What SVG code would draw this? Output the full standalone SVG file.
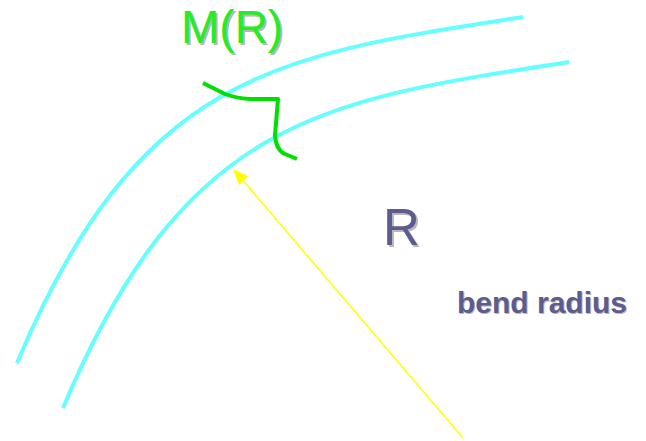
<svg xmlns="http://www.w3.org/2000/svg" width="646" height="441" viewBox="0 0 646 441">
<defs>
<style>
.fiber{fill:none;stroke:#66ffff;stroke-width:4}
.lbl{font-family:"Liberation Sans",Arial,sans-serif}
.purple{fill:#5c5c8e}
.shadow{fill:#b8b8b8}
</style>
</defs>
<rect width="646" height="441" fill="#ffffff"/>
<g id="fiber-outer"><path class="fiber" d="M17,363 C140,70 280,55 523,17"/></g>
<g id="fiber-inner"><path class="fiber" d="M63,408 C186,115 326,100 569,62"/></g>
<g id="connectors">
<line x1="463" y1="438" x2="240" y2="177" stroke="#ffff00" stroke-width="1.5"/>
<polygon points="233,169 248,176 239,185" fill="#ffff00"/>
</g>
<g id="squiggle"><path d="M203,83 L225,94 Q235,98 250,99 L278,99 L275,135 Q276,150 285,154 L297,159" fill="none" stroke="#00e000" stroke-width="4" stroke-linejoin="round"/></g>
<g id="label-MR">
<text class="lbl shadow" x="183" y="45" font-size="46">M(R)</text>
<text class="lbl" x="181" y="43" font-size="46" fill="#22ee22">M(R)</text>
</g>
<g id="label-R">
<text class="lbl shadow" x="385" y="247" font-size="51">R</text>
<text class="lbl purple" x="383" y="245" font-size="51">R</text>
</g>
<g id="label-bend">
<text class="lbl shadow" x="458" y="314" font-size="30" font-weight="bold">bend radius</text>
<text class="lbl purple" x="457" y="313" font-size="30" font-weight="bold">bend radius</text>
</g>
</svg>
